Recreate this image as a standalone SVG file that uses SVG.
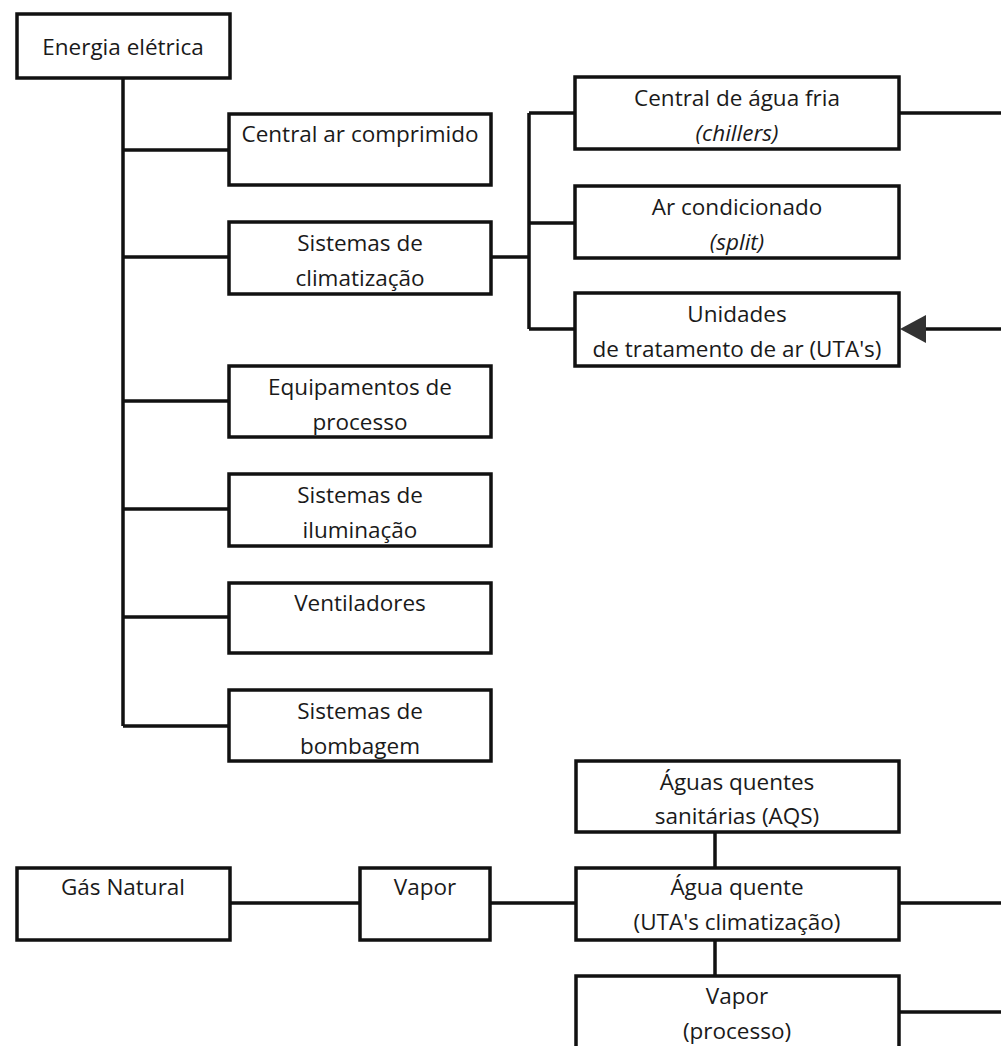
<svg xmlns="http://www.w3.org/2000/svg" width="1001" height="1046" viewBox="0 0 1001 1046">
<style>
.box{fill:#fff;stroke:#111;stroke-width:3.5}
.ln{fill:none;stroke:#111;stroke-width:3.5}
text{font-family:"Open Sans","Noto Sans",sans-serif;font-size:22.5px;fill:#1a1a1a;text-anchor:middle}
.it{font-style:italic}
</style>
<rect width="1001" height="1046" fill="#fff"/>
<g id="connectors">
<path class="ln" d="M123,78 V726"/>
<path class="ln" d="M123,150 H229 M123,257 H229 M123,401 H229 M123,509 H229 M123,617 H229 M123,726 H229"/>
<path class="ln" d="M491,257 H529 M529,113 V329 M529,113 H575 M529,223 H575 M529,329 H575"/>
<path class="ln" d="M899,113 H1001"/>
<path class="ln" d="M1001,329 H925"/>
<path d="M900,329 L926,315 L926,343 Z" fill="#333"/>
<path class="ln" d="M230,903 H360 M490,903 H576 M899,903 H1001 M899,1012 H1001"/>
<path class="ln" d="M715,832 V868 M715,940 V976"/>
</g>
<g id="energia"><rect class="box" x="17" y="14" width="213" height="64"/><text x="123" y="55">Energia elétrica</text></g>
<g id="ar-comprimido"><rect class="box" x="229" y="114" width="262" height="71"/><text x="360" y="142">Central ar comprimido</text></g>
<g id="climatizacao"><rect class="box" x="229" y="222" width="262" height="72"/><text x="360" y="251">Sistemas de</text><text x="360" y="286">climatização</text></g>
<g id="equipamentos"><rect class="box" x="229" y="366" width="262" height="71"/><text x="360" y="395">Equipamentos de</text><text x="360" y="430">processo</text></g>
<g id="iluminacao"><rect class="box" x="229" y="474" width="262" height="72"/><text x="360" y="503">Sistemas de</text><text x="360" y="538">iluminação</text></g>
<g id="ventiladores"><rect class="box" x="229" y="583" width="262" height="70"/><text x="360" y="611">Ventiladores</text></g>
<g id="bombagem"><rect class="box" x="229" y="690" width="262" height="71"/><text x="360" y="719">Sistemas de</text><text x="360" y="754">bombagem</text></g>
<g id="agua-fria"><rect class="box" x="575" y="77" width="324" height="72"/><text x="737" y="106">Central de água fria</text><text x="737" y="141" class="it">(chillers)</text></g>
<g id="ar-condicionado"><rect class="box" x="575" y="186" width="324" height="72"/><text x="737" y="215">Ar condicionado</text><text x="737" y="250" class="it">(split)</text></g>
<g id="utas"><rect class="box" x="575" y="293" width="324" height="73"/><text x="737" y="322">Unidades</text><text x="737" y="357">de tratamento de ar (UTA's)</text></g>
<g id="aqs"><rect class="box" x="576" y="761" width="323" height="71"/><text x="737" y="790">Águas quentes</text><text x="737" y="824">sanitárias (AQS)</text></g>
<g id="gas-natural"><rect class="box" x="17" y="868" width="213" height="72"/><text x="123" y="895">Gás Natural</text></g>
<g id="vapor"><rect class="box" x="360" y="868" width="130" height="72"/><text x="425" y="895">Vapor</text></g>
<g id="agua-quente"><rect class="box" x="576" y="868" width="323" height="72"/><text x="737" y="895">Água quente</text><text x="737" y="930">(UTA's climatização)</text></g>
<g id="vapor-processo"><rect class="box" x="576" y="976" width="323" height="72"/><text x="737" y="1004">Vapor</text><text x="737" y="1039">(processo)</text></g>
</svg>
